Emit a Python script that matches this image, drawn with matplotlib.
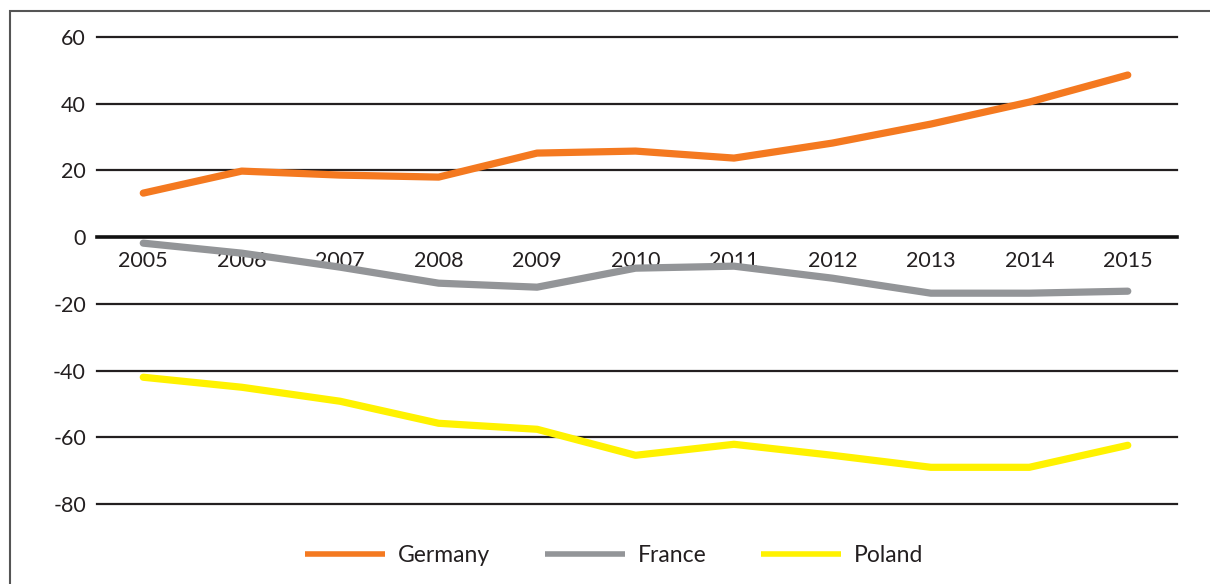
import matplotlib
matplotlib.use('agg')
import matplotlib.pyplot as plt
from matplotlib.patches import Rectangle
from matplotlib.lines import Line2D

years = [2005, 2006, 2007, 2008, 2009, 2010, 2011, 2012, 2013, 2014, 2015]
germany = [13.2, 19.8, 18.6, 18.0, 25.2, 25.8, 23.7, 28.2, 33.9, 40.5, 48.6]
france = [-1.8, -4.8, -9.0, -13.8, -15.0, -9.3, -8.7, -12.3, -16.8, -16.8, -16.2]
poland = [-42.0, -45.0, -49.2, -55.8, -57.6, -65.4, -62.1, -65.4, -69.0, -69.0, -62.4]
y_ticks = [-80, -60, -40, -20, 0, 20, 40, 60]

plt.rcParams['font.family'] = ['Lato', 'DejaVu Sans']
plt.rcParams['axes.unicode_minus'] = False

colors = {'Germany': '#f47920', 'France': '#939598', 'Poland': '#fff200'}

fig = plt.figure(figsize=(12.1, 5.84), dpi=100)
ax = fig.add_axes([97 / 1210, 1 - 504 / 584, (1177 - 97) / 1210, (504 - 37) / 584])

# outer frame, cut off on the right and bottom like the source
fig.patches.append(Rectangle((10 / 1210, -0.1), 1.2, 1.1 - 11 / 584,
                             transform=fig.transFigure, fill=False,
                             edgecolor='#555555', linewidth=1.5))

for y in y_ticks:
    if y == 0:
        continue
    ax.axhline(y, color='#231f20', linewidth=1.6, zorder=1, clip_on=False)

ax.plot(years, germany, color=colors['Germany'], linewidth=5.2, solid_capstyle='round', zorder=3)
ax.plot(years, france, color=colors['France'], linewidth=5.2, solid_capstyle='round', zorder=3)
ax.plot(years, poland, color=colors['Poland'], linewidth=5.2, solid_capstyle='round', zorder=3)

ax.set_xlim(2004.53, 2015.5)
ax.set_ylim(-80, 60)
ax.set_yticks(y_ticks)
ax.set_xticks(years)
ax.set_xticklabels([str(y) for y in years])

for s in ['top', 'right', 'left']:
    ax.spines[s].set_visible(False)
ax.spines['bottom'].set_position(('data', 0))
ax.spines['bottom'].set_linewidth(2.6)
ax.spines['bottom'].set_color('#111111')
ax.spines['bottom'].set_zorder(2)

ax.tick_params(axis='both', length=0, labelsize=15.5, colors='#231f20')
ax.tick_params(axis='x', pad=10)
ax.tick_params(axis='y', pad=8)

handles = [Line2D([], [], color=c, linewidth=4, solid_capstyle='butt') for c in colors.values()]
ax.legend(handles, list(colors.keys()), loc='center',
          bbox_to_anchor=((614 - 97) / 1080, (1 - 556 / 584 - (1 - 504 / 584)) / ((504 - 37) / 584)),
          ncol=3, frameon=False, fontsize=16.5, handlelength=3.5,
          handletextpad=0.55, columnspacing=2.4, labelcolor='#231f20')

fig.savefig('out.png', dpi=100, facecolor='white')
